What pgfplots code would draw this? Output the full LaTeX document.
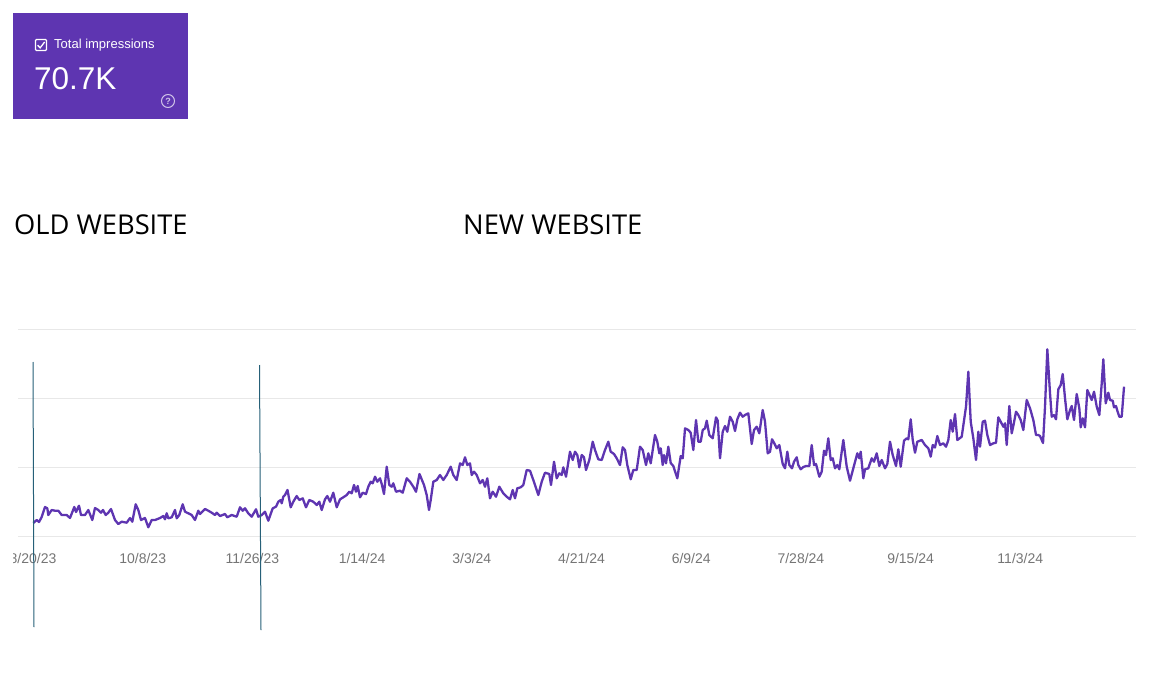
\documentclass[border=0pt]{standalone}
\usepackage{pgfplots}
\pgfplotsset{compat=1.18}
\usepackage{pgfplotstable}
\usepackage{fontspec}
\setmainfont{Open Sans}
\newfontfamily\robo{Liberation Sans}
\definecolor{gscpurple}{RGB}{94,53,177}
\definecolor{annot}{RGB}{38,96,120}
\definecolor{tickgray}{RGB}{117,117,117}
\definecolor{gridgray}{RGB}{232,232,232}
\pgfplotstableread{
x y
33.3 13
36.7 16
39 14
41.7 19
45 29
47.3 27.7
48.3 21
51.7 26
55 25.3
58.3 25.3
61.7 21
66.7 21
70 18
74.3 29
76 24
79 30.3
81 21
85 21
88.3 26
92.3 16
95 28
98.3 26
101 23.3
103 26
105.7 21
108.3 23.3
111 27
115 16
118.3 12
121.7 14.3
126.7 13.3
130 18
132.3 14.3
135.7 31.7
138.3 26
141 16
145 18
148.3 8.7
151.7 16
155 16
160 18
163.3 20
165 16.7
166.7 22.7
168.3 17.7
171.7 18.7
175 26
176.7 17.7
179.3 21
182.7 31.7
185 24.3
188.3 22.7
191.7 21
195 16
198.3 25.3
200 22
205 27
208.3 25.3
211.7 23.3
215 21
216.7 23.3
220 20
225 22
227.3 18.7
231.7 21
236.7 19.3
240 28.7
242.7 25.3
245 27.7
248.3 22.7
251.7 19.3
256 26.7
258.3 19.3
261.7 21
265 24.3
268.3 15.3
272.7 27.7
276 29.3
278.3 34.3
280.7 36
281.7 32.7
283.3 39.3
285 41
287.5 46
290.7 28.7
293.3 34.3
296.7 40
299.3 36
302.7 37.7
306 28.7
309.3 36
313.3 34.3
316.7 31
319.3 34.3
321.7 26
325 36.7
327.3 40
330 34.3
333.3 43.3
336.7 28.7
340 36.7
343.3 38.7
346.7 41
349.3 44.3
351.7 42.7
354 51
356 44.3
357.7 50
360 38.7
362.7 43.3
366 42
368.3 49.3
370.7 54.3
372.7 52.7
375 59.3
377.3 54.3
380 57.7
381.7 52
384 42
386.7 69.3
389.3 51
391.7 49.3
393.3 52.7
396 44.3
400 45.3
402.7 43.3
406.7 57.7
410 54.3
413.3 49.3
416 44.3
419.5 62
424 51
426.7 41
429 26
430.7 36
433.3 54.3
436.7 56
440 61
443.3 56
446.7 61
450.7 69.3
453.3 61
456.7 56
460 72.7
462.7 71
465 78.7
467.3 71
470 72.7
471.7 61
474 64.3
476.7 61
480 52.7
482.7 56
485 49.3
487.3 57.7
490 37.7
492.7 44.3
496 39.3
499.3 49.3
503.3 42.7
506.7 39.3
510 36.7
512.7 46
515 37.7
517.3 47.7
520.7 48.7
523.3 51
526.7 66
530 65.3
533.3 56
538.3 41
541.7 54.3
545 63.3
549.3 62
551 51
554 74.3
556.7 57.7
559.3 62.7
561.7 61
563.3 68.7
566 59.3
570 84.3
572.7 76
575 84.3
577.3 81
579.3 68.7
581.7 81
584 78.7
586 66
589.3 76
592.7 94.3
595 86
598.3 76.7
601.7 76
605 86
608.3 94.3
610.7 84.3
614 82
616.7 77.7
620 71
622.7 88.7
625 86
627.3 71
630.7 56.7
633.3 66
636.7 66
640 89.3
642.7 86
646 71
648.3 82.7
650.7 72.7
655 101
657.3 94.3
659.3 82.7
660.7 87.7
662.7 71
664 81
666 72.7
668.3 89.3
670.7 73
673.3 70
677.3 57.7
680.7 80
682.7 77.7
685 107.7
688.3 106
690.7 103.3
693.3 86
696 116
698.3 94.3
700.7 94.3
702.7 106
705 107.7
706.7 115.3
709.3 101
712.7 97.7
716 118.7
717.7 115.3
720 77.7
722.7 104.3
725 110
727.3 104.3
730 119.3
732.7 114.3
735 105
737.3 116.7
740 123.3
742.7 119.3
745 121
748.3 122.7
751.7 92
754 106
756.7 109.3
759.3 102.7
762.7 126
765 114.3
767.7 82.7
770 84.3
772 96.7
774 93.3
776.7 87.7
779.3 91
782.7 72
785 67.7
787.3 84.3
789.3 71
792 67.7
794 74.3
796.7 78.7
798.3 71
800.7 66.7
803.3 69
806 70
809.3 70
811.7 91
814 71
816 72
819.3 59.3
821.7 64.3
824 85.3
826 81
828.3 97.7
830.7 76
832.7 77.7
835 67.7
837.3 71
839.3 66.7
843.3 96
846.7 69.3
850 55.3
853.3 67.7
857.3 82.7
859.3 77.7
860.7 84.3
863.3 57.7
865 66.7
868.3 67.7
871.7 77.7
874 74.3
876.7 82.7
879.3 70
881.7 76
885 67.7
887.3 72
890 94.3
892.7 81
896 70
898.3 86.7
900.7 69.3
904 95.3
906.7 97.7
908.3 96.7
910.7 116.7
912.7 96
915 83.3
917.3 94.3
921.7 96
925 91
928.3 87.7
930.7 79.3
932.7 91
935 88.5
937.3 100
940 91
943.3 92.7
946 89.3
948.3 96
950.7 116
952.7 104.3
955 122
957.3 96
961.7 99.3
966 129.3
968.3 164.3
970.7 114.3
973.3 97.7
976 76
978.3 104.3
980 89.3
982.7 114.3
985 115.3
987.3 101
990 91
993.3 92.7
996 93.3
998.3 118.7
1000.7 114.3
1003.3 109.3
1005 112.7
1006.7 91
1009.3 130
1011.7 102.7
1013.3 110
1016 124.3
1018.3 121
1020.7 116
1023.3 106
1026.7 136
1030 127.7
1033.3 116
1036 101
1038.3 101
1040 100
1043 93
1045 129.3
1047.3 186.7
1050 142.7
1051.7 119.3
1054 121
1056 116.7
1058.3 146.7
1060.7 151
1062.7 162
1065 137.7
1067.3 116.7
1070 126
1071.7 130
1074 116
1076.7 142
1079.3 127.7
1080.7 108.7
1082.7 117.7
1085 108.7
1087.3 146
1090 140
1091.7 136
1094 144.3
1096.7 129.3
1099.3 121
1101.7 152.7
1103.3 176.7
1105.7 132.7
1108.3 143.3
1110 136
1112.7 135.3
1114 128.7
1116 130
1117.3 125.3
1119.3 119.3
1121.7 119.3
1124 149.3
}\impressions
\begin{document}
\begin{tikzpicture}[x=1bp,y=-1bp]
\useasboundingbox (0,0) rectangle (1158,686);
% metric card
\fill[gscpurple] (13,13) rectangle (188,119);
\draw[white, line width=1.3bp, rounded corners=1bp] (35.5,39.5) rectangle (46.5,50.5);
\draw[white, line width=1.3bp] (37.6,45.2) -- (40.2,47.8) -- (44.6,42);
\node[anchor=west, text=white, font=\robo\fontsize{13bp}{15bp}\selectfont, inner sep=0] at (54,45) {Total impressions};
\node[anchor=base west, text=white, font=\robo\fontsize{31.5bp}{36bp}\selectfont, inner sep=0] at (34,90) {70.7K};
\draw[white, opacity=0.7, line width=1bp] (168,101) circle (6.5);
\node[text=white, opacity=0.7, font=\robo\bfseries\fontsize{9bp}{10bp}\selectfont, inner sep=0] at (168,101.3) {?};
% headings
\node[anchor=base west, inner sep=0, font=\fontsize{27.3bp}{32bp}\selectfont] at (14,234) {OLD WEBSITE};
\node[anchor=base west, inner sep=0, font=\fontsize{27.3bp}{32bp}\selectfont] at (463,234) {NEW WEBSITE};
\begin{axis}[
  at={(18bp,-536bp)}, anchor=south west,
  scale only axis, width=1118bp, height=207bp,
  xmin=18, xmax=1136, ymin=0, ymax=207,
  axis line style={draw=none},
  major tick length=0pt,
  ytick={0,69,138,207}, yticklabels={},
  ymajorgrids, grid style={gridgray, line width=0.9bp},
  xtick={33,142.7,252.4,362.1,471.8,581.5,691.2,800.9,910.6,1020.3},
  xticklabels={8/20/23,10/8/23,11/26/23,1/14/24,3/3/24,4/21/24,6/9/24,7/28/24,9/15/24,11/3/24},
  xticklabel style={font=\robo\fontsize{14bp}{16bp}\selectfont, text=tickgray, anchor=base, yshift=-27bp},
]
\addplot[gscpurple, line width=2.3bp, line join=round, mark=none] table[x=x,y=y] {\impressions};
\end{axis}
\fill[white] (0,540) rectangle (12.5,580);
\draw[annot, line width=1bp] (33,362) -- (34,627);
\draw[annot, line width=1bp] (259.5,365) -- (261,630);
\end{tikzpicture}
\end{document}
